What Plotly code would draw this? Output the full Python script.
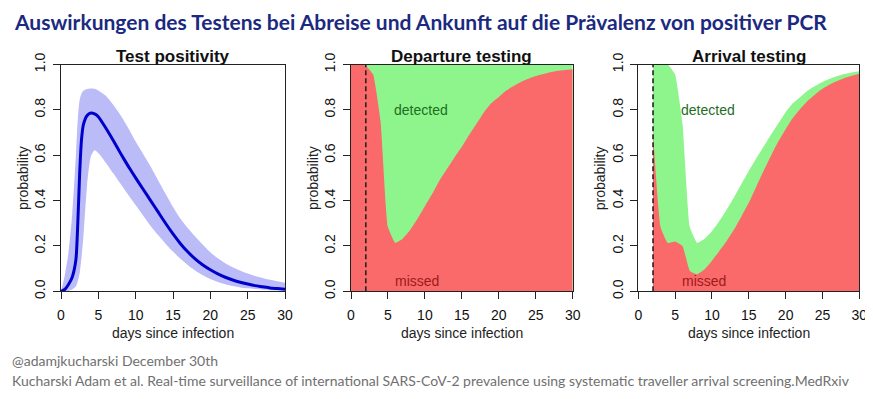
import plotly.graph_objects as go

# ---------------- data ----------------
pos_days = [0, 0.5, 1, 1.5, 2, 2.25, 2.5, 2.75, 3, 3.5, 4, 4.5, 5, 6, 7, 8, 9, 10,
            11, 12, 13, 14, 15, 16, 17, 18, 19, 20, 21, 22, 23, 24, 25, 26, 27, 28, 29, 30]
pos_median = [0, 0.008, 0.03, 0.062, 0.14, 0.3, 0.52, 0.67, 0.735, 0.775, 0.786, 0.782, 0.77,
              0.72, 0.665, 0.607, 0.552, 0.5, 0.45, 0.40, 0.35, 0.30, 0.253, 0.21, 0.173, 0.142,
              0.116, 0.095, 0.077, 0.062, 0.05, 0.04, 0.032, 0.025, 0.02, 0.015, 0.012, 0.009]
pos_upper = [0, 0.07, 0.17, 0.34, 0.6, 0.76, 0.845, 0.872, 0.884, 0.892, 0.894, 0.893, 0.885,
             0.862, 0.822, 0.775, 0.72, 0.66, 0.605, 0.55, 0.49, 0.43, 0.372, 0.32, 0.278, 0.24,
             0.205, 0.172, 0.146, 0.124, 0.106, 0.091, 0.079, 0.068, 0.059, 0.051, 0.044, 0.038]
pos_lower = [0, 0, 0.002, 0.008, 0.022, 0.045, 0.08, 0.15, 0.24, 0.47, 0.595, 0.622, 0.61,
             0.567, 0.52, 0.473, 0.426, 0.38, 0.334, 0.288, 0.248, 0.21, 0.175, 0.143, 0.115,
             0.091, 0.071, 0.054, 0.041, 0.031, 0.023, 0.017, 0.013, 0.01, 0.007, 0.005, 0.004, 0.003]

dep_days = list(range(0, 31))
dep_missed = [1.0, 1.0, 0.995, 0.956, 0.75, 0.284, 0.214, 0.232, 0.27, 0.32, 0.375, 0.43,
              0.49, 0.54, 0.59, 0.637, 0.69, 0.74, 0.79, 0.83, 0.857, 0.885, 0.905, 0.923,
              0.937, 0.949, 0.958, 0.966, 0.972, 0.976, 0.979]

arr_days = list(range(2, 31))
arr_total = [1.0, 1.0, 1.0, 0.956, 0.74, 0.284, 0.214, 0.232, 0.265, 0.31, 0.36, 0.415,
             0.473, 0.53, 0.585, 0.637, 0.69, 0.74, 0.79, 0.83, 0.857, 0.885, 0.905, 0.923,
             0.937, 0.949, 0.958, 0.965, 0.97]
arr_missed = [0.7, 0.285, 0.213, 0.22, 0.2, 0.09, 0.075, 0.097, 0.135, 0.178, 0.222, 0.272,
              0.33, 0.39, 0.46, 0.53, 0.597, 0.66, 0.715, 0.765, 0.805, 0.84, 0.868, 0.893,
              0.912, 0.927, 0.94, 0.95, 0.959]

test_day = 2
x_ticks = [0, 5, 10, 15, 20, 25, 30]
y_ticks = [0, 0.2, 0.4, 0.6, 0.8, 1.0]
y_ticktext = ["0.0", "0.2", "0.4", "0.6", "0.8", "1.0"]

panel_titles = ["Test positivity", "Departure testing", "Arrival testing"]
main_title = "Auswirkungen des Testens bei Abreise und Ankunft auf die Prävalenz von positiver PCR"
footer1 = "@adamjkucharski December 30th"
footer2 = ("Kucharski Adam et al. Real-time surveillance of international SARS-CoV-2 prevalence "
           "using systematic traveller arrival screening.MedRxiv")

# ---------------- style ----------------
OFF = 8                      # page body margin of the html page
W, H = 873 - OFF, 399 - OFF  # figure size so it fits inside the window
RED = "#FA6A6A"
GREEN = "#8EF58C"
BAND = "#BBBBF8"
LINE = "#0000CC"
FONT = "Liberation Sans, Arial, sans-serif"
TFONT = "Lato, Open Sans, sans-serif"
AREA_LINE = dict(width=0, shape="spline", smoothing=0.35)


def fx(px):
    return (px - OFF) / W


def fy(py):
    return 1 - (py - OFF) / H


px_x = [(61, 285), (351, 572.7), (638.3, 859.3)]
top_px, bot_px = 64.5, 291.3
ydom = [fy(bot_px), fy(top_px)]

fig = go.Figure()

# Panel 1
fig.add_trace(go.Scatter(x=pos_days, y=pos_upper, mode="lines", line=dict(width=0, shape="spline", smoothing=0.6),
                         hoverinfo="skip", showlegend=False, xaxis="x", yaxis="y"))
fig.add_trace(go.Scatter(x=pos_days, y=pos_lower, mode="lines", line=dict(width=0, shape="spline", smoothing=0.6),
                         fill="tonexty", fillcolor=BAND, showlegend=False, xaxis="x", yaxis="y"))
fig.add_trace(go.Scatter(x=pos_days, y=pos_median, mode="lines",
                         line=dict(width=3, color=LINE, shape="spline", smoothing=0.6),
                         showlegend=False, xaxis="x", yaxis="y"))

# Panel 2
fig.add_trace(go.Scatter(x=dep_days, y=[1.0] * len(dep_days), mode="lines", line=dict(width=0),
                         fill="tozeroy", fillcolor=GREEN, showlegend=False, xaxis="x2", yaxis="y2"))
fig.add_trace(go.Scatter(x=dep_days, y=dep_missed, mode="lines", line=AREA_LINE,
                         fill="tozeroy", fillcolor=RED, showlegend=False, xaxis="x2", yaxis="y2"))
fig.add_trace(go.Scatter(x=[test_day, test_day], y=[0, 1], mode="lines",
                         line=dict(width=1.6, color="#222", dash="5px,3px"),
                         showlegend=False, xaxis="x2", yaxis="y2"))

# Panel 3
fig.add_trace(go.Scatter(x=arr_days, y=arr_total, mode="lines", line=AREA_LINE,
                         fill="tozeroy", fillcolor=GREEN, showlegend=False, xaxis="x3", yaxis="y3"))
fig.add_trace(go.Scatter(x=arr_days, y=arr_missed, mode="lines", line=AREA_LINE,
                         fill="tozeroy", fillcolor=RED, showlegend=False, xaxis="x3", yaxis="y3"))
fig.add_trace(go.Scatter(x=[test_day, test_day], y=[0, 1], mode="lines",
                         line=dict(width=1.6, color="#222", dash="5px,3px"),
                         showlegend=False, xaxis="x3", yaxis="y3"))

axis_common = dict(showline=True, mirror=True, linecolor="#222", linewidth=1.2,
                   ticks="outside", ticklen=7, tickwidth=1, tickcolor="#222",
                   showgrid=False, zeroline=False, layer="above traces",
                   tickfont=dict(family=FONT, size=14, color="#111"), fixedrange=True)

layout = dict(width=W, height=H, margin=dict(l=0, r=0, t=0, b=0, autoexpand=False),
              paper_bgcolor="white", plot_bgcolor="white", showlegend=False)

annotations = []
for i, (x0, x1) in enumerate(px_x):
    sfx = "" if i == 0 else str(i + 1)
    layout["xaxis" + sfx] = dict(axis_common, domain=[fx(x0), fx(x1)], range=[0, 30],
                                 tickvals=x_ticks, anchor="y" + sfx, ticklabelstandoff=4)
    layout["yaxis" + sfx] = dict(axis_common, domain=ydom, range=[0, 1], tickvals=y_ticks,
                                 ticktext=y_ticktext, tickangle=-90, anchor="x" + sfx,
                                 ticklabelstandoff=2)
    cx = fx((x0 + x1) / 2)
    annotations.append(dict(text="<b>" + panel_titles[i] + "</b>", x=cx, y=fy(56.5),
                            xref="paper", yref="paper", showarrow=False, xanchor="center",
                            yanchor="middle", font=dict(family=FONT, size=17, color="#111")))
    annotations.append(dict(text="days since infection", x=cx, y=fy(333), xref="paper",
                            yref="paper", showarrow=False, xanchor="center", yanchor="middle",
                            font=dict(family=FONT, size=14, color="#222")))
    annotations.append(dict(text="probability", x=fx(x0 - 38), y=fy(178), xref="paper",
                            yref="paper", showarrow=False, xanchor="center", yanchor="middle",
                            textangle=-90, font=dict(family=FONT, size=14, color="#222")))

for sfx, xd, xm in [("2", 9.5, 8.9), ("3", 9.5, 8.9)]:
    annotations.append(dict(text="detected", x=xd, y=0.80, xref="x" + sfx, yref="y" + sfx,
                            showarrow=False, font=dict(family=FONT, size=14, color="#1E6E1E")))
    annotations.append(dict(text="missed", x=xm, y=0.047, xref="x" + sfx, yref="y" + sfx,
                            showarrow=False, font=dict(family=FONT, size=14, color="#9B1B1B")))

annotations.append(dict(text="<b>" + main_title + "</b>", x=fx(12), y=fy(21), xref="paper",
                        yref="paper", showarrow=False, xanchor="left", yanchor="middle",
                        font=dict(family=TFONT, size=21, color="#1B2A80")))
annotations.append(dict(text=footer1, x=fx(10), y=fy(360), xref="paper", yref="paper",
                        showarrow=False, xanchor="left", yanchor="middle",
                        font=dict(family=TFONT, size=14, color="#707070")))
annotations.append(dict(text=footer2, x=fx(10), y=fy(380), xref="paper", yref="paper",
                        showarrow=False, xanchor="left", yanchor="middle",
                        font=dict(family=TFONT, size=14, color="#707070")))

layout["annotations"] = annotations
fig.update_layout(**layout)
fig.write_html("out.html")
